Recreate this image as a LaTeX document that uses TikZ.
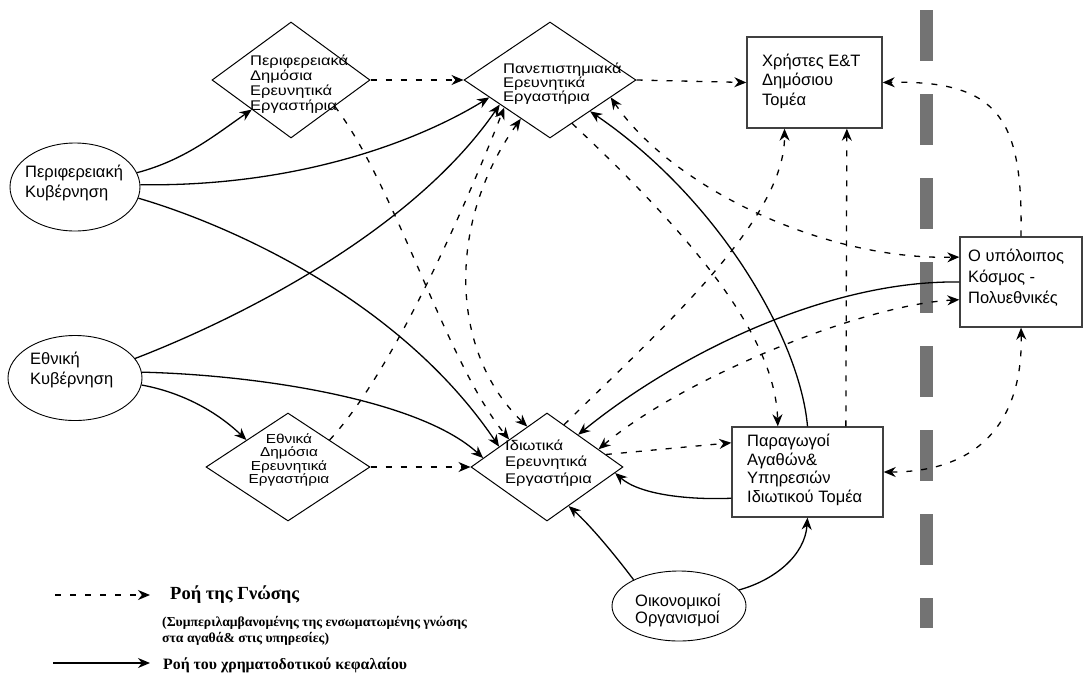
\documentclass[tikz,border=0pt]{standalone}
\usepackage{fontspec}
\setmainfont{Liberation Sans}
\newfontfamily\dfont[FakeStretch=1.18]{Liberation Sans}
\newfontfamily\lfont{Liberation Serif}
\usetikzlibrary{shapes.geometric,arrows.meta}

\tikzset{
  ell/.style={ellipse, draw, line width=0.9pt, inner sep=0pt},
  dia/.style={diamond, draw, line width=1pt, inner sep=0pt},
  rbox/.style={rectangle, draw=black!75, line width=1.4pt, inner sep=0pt},
  btxt/.style={align=left, inner sep=0pt, anchor=west, font=\fontsize{16.5}{19.5}\selectfont},
  dtxt/.style={align=left, inner sep=0pt, anchor=west},
  fund/.style={draw, line width=1.3pt, -{Stealth[length=12pt,width=10pt]}},
  know/.style={draw, line width=1.3pt, dash pattern=on 6pt off 9pt, -{Stealth[length=12pt,width=10pt]}},
  know2/.style={draw, line width=1.3pt, dash pattern=on 6pt off 9pt, {Stealth[length=12pt,width=10pt]}-{Stealth[length=12pt,width=10pt]}},
  lgd/.style={inner sep=0pt, anchor=west, font=\lfont\bfseries\fontsize{18.5}{20}\selectfont},
  lgf/.style={inner sep=0pt, anchor=west, font=\lfont\bfseries\fontsize{15.8}{18}\selectfont},
  lgs/.style={inner sep=0pt, anchor=west, font=\lfont\bfseries\fontsize{13.7}{15}\selectfont},
}

\begin{document}
\begin{tikzpicture}[x=1pt,y=-1pt]
\useasboundingbox (0,0) rectangle (1086,675);

% border line between the national system and the rest of the world
\draw[black!55, line width=13pt, dash pattern=on 51pt off 33pt] (926,10) -- (926,628);

% actors
\node[ell, minimum width=130pt, minimum height=88pt] (pk) at (75,187) {};
\node[ell, minimum width=134pt, minimum height=85pt] (ek) at (75,378) {};
\node[ell, minimum width=134pt, minimum height=70pt] (oik) at (679,606) {};
\node[dia, minimum width=158pt, minimum height=116pt] (pdee) at (291,80) {};
\node[dia, minimum width=172pt, minimum height=116pt] (pee) at (550,80) {};
\node[dia, minimum width=164pt, minimum height=108pt] (edee) at (288,467) {};
\node[dia, minimum width=152pt, minimum height=108pt] (iee) at (547,467) {};
\node[rbox, minimum width=135pt, minimum height=91pt] (xr) at (814.5,82.5) {};
\node[rbox, minimum width=122pt, minimum height=90pt] (ky) at (1021,282) {};
\node[rbox, minimum width=151pt, minimum height=90pt] (pay) at (807.5,472) {};

% labels
\node[btxt] (pk-t) at (25,183) {Περιφερειακή\\Κυβέρνηση};
\node[btxt] (ek-t) at (30,370) {Εθνική\\Κυβέρνηση};
\node[btxt, font=\fontsize{16.5}{17}\selectfont] (oik-t) at (635,610) {Οικονομικοί\\Οργανισμοί};
\node[btxt] (xr-t) at (762,81) {Χρήστες Ε\&Τ\\Δημόσιου\\Τομέα};
\node[btxt, font=\fontsize{16.5}{21}\selectfont] (ky-t) at (968,278) {Ο υπόλοιπος\\Κόσμος -\\Πολυεθνικές};
\node[btxt, font=\fontsize{16.5}{18.5}\selectfont] (pay-t) at (747,470) {Παραγωγοί\\Αγαθών\&\\Υπηρεσιών\\Ιδιωτικού Τομέα};
\node[dtxt, font=\dfont\fontsize{14}{15}\selectfont] (pdee-t) at (250,84.5) {Περιφερειακά\\Δημόσια\\Ερευνητικά\\Εργαστήρια};
\node[dtxt, font=\dfont\fontsize{14}{14}\selectfont] (pee-t) at (503,84) {Πανεπιστημιακά\\Ερευνητικά\\Εργαστήρια};
\node[dtxt, align=center, anchor=center, font=\dfont\fontsize{13}{13.5}\selectfont] (edee-t) at (289,460) {Εθνικά\\Δημόσια\\Ερευνητικά\\Εργαστήρια};
\node[dtxt, font=\dfont\fontsize{14}{16.5}\selectfont] (iee-t) at (505,463) {Ιδιωτικά\\Ερευνητικά\\Εργαστήρια};

% financing flows
\draw[fund] (pk.13) .. controls (185,160) and (215,135) .. (pdee.217);
\draw[fund] (pk.2) .. controls (300,187) and (420,140) .. (pee.196);
\draw[fund] (pk.-10) .. controls (230,225) and (400,300) .. (iee.157);
\draw[fund] (ek.18) .. controls (230,322) and (410,235) .. (pee.206);
\draw[fund] (ek.5) .. controls (260,375) and (420,400) .. (iee.172);
\draw[fund] (ek.-6) .. controls (180,392) and (215,410) .. (edee.147);
\draw[fund] (pay.north) .. controls (800,340) and (720,200) .. (pee.322);
\draw[fund] (pay.199) .. controls (690,500) and (640,495) .. (iee.355);
\draw[fund] (oik.150) .. controls (615,555) and (590,525) .. (iee.299);
\draw[fund] (oik.15) .. controls (775,580) and (805,555) .. (pay.south);
\draw[fund] (ky.west) .. controls (830,280) and (680,352) .. (iee.46);

% knowledge flows
\draw[know] (pdee.east) -- (pee.west);
\draw[know] (pee.east) -- (xr.west);
\draw[know] (ky.north) .. controls (1023,120) and (1000,80) .. (xr.east);
\draw[know2] (ky.south) .. controls (1023,420) and (980,472) .. (pay.east);
\draw[know2] (pee.344) .. controls (670,185) and (820,260) .. (ky.158);
\draw[know] (pee.297) .. controls (680,225) and (775,330) .. (pay.123);
\draw[know] (pay.50) -- (xr.305);
\draw[know] (iee.68) .. controls (660,330) and (785,220) .. (xr.237);
\draw[know2] (iee.19) .. controls (680,380) and (860,305) .. (ky.196);
\draw[know] (iee.12) -- (pay.159);
\draw[know] (edee.east) -- (iee.west);
\draw[know] (pdee.329) .. controls (395,185) and (445,360) .. (iee.144);
\draw[know] (edee.33) .. controls (390,375) and (460,220) .. (pee.211);
\draw[know2] (pee.233) .. controls (448,220) and (448,350) .. (iee.116);

% legend
\coordinate (kA) at (55,595);
\coordinate (kB) at (150,595);
\draw[know] (kA) -- (kB);
\node[lgd] (kt) at (170,595) {Ροή της Γνώσης};
\node[lgs] (kt2) at (162,623) {(Συμπεριλαμβανομένης της ενσωματωμένης γνώσης};
\node[lgs] (kt3) at (162,639) {στα αγαθά\& στις υπηρεσίες)};
\coordinate (fA) at (53,663);
\coordinate (fB) at (150,663);
\draw[fund] (fA) -- (fB);
\node[lgf] (ft) at (163,665) {Ροή του χρηματοδοτικού κεφαλαίου};
\end{tikzpicture}
\end{document}
